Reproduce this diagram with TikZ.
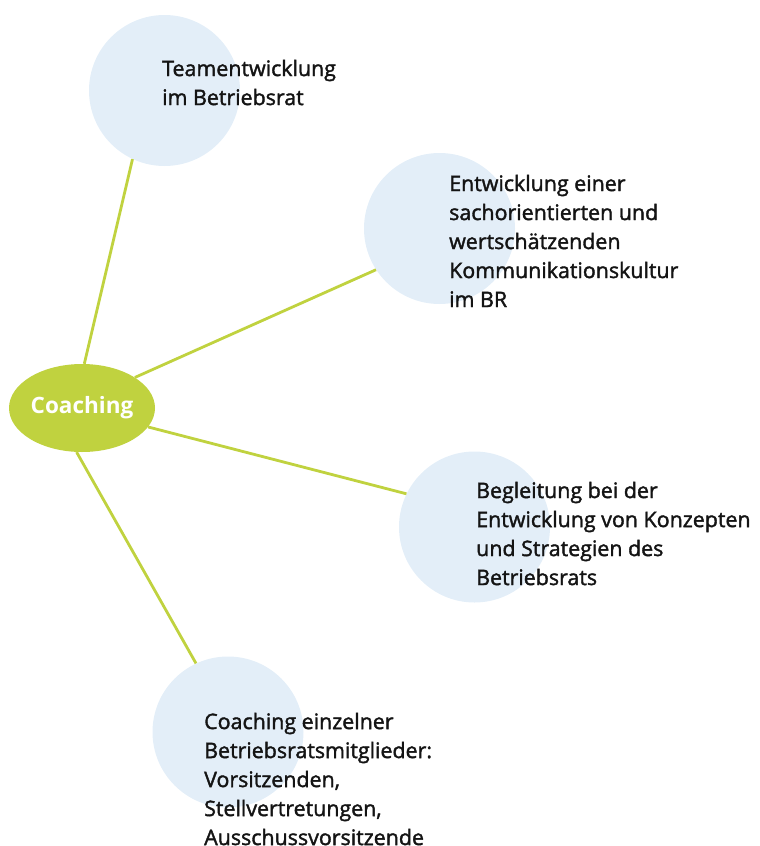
\documentclass[tikz,border=0pt]{standalone}
\usepackage{fontspec}
\setmainfont{Open Sans}[FakeBold=1.7]
\newfontfamily\hubfont{Open Sans}[UprightFont=*-Bold]
\usetikzlibrary{shapes.geometric}
\definecolor{limegreen}{HTML}{C0D23F}
\definecolor{paleblue}{HTML}{E3EEF8}
\definecolor{inktext}{HTML}{141414}
\begin{document}
\begin{tikzpicture}[x=1pt,y=-1pt,
  topic/.style={circle,fill=paleblue,inner sep=0pt,minimum size=151pt},
  hub/.style={ellipse,fill=limegreen,inner sep=0pt,minimum width=146pt,minimum height=88pt,
    text=white,font=\fontsize{22.5}{27}\hubfont},
  label/.style={anchor=north west,inner sep=0pt,align=left,text=inktext,
    font=\fontsize{21.4}{29}\selectfont},
  spoke/.style={draw=limegreen,line width=2.8pt}]
\useasboundingbox (0,0) rectangle (760,846);

% background discs
\node[topic] (t1) at (164.5,90.5) {};
\node[topic] (t2) at (439.5,228.5) {};
\node[topic] (t3) at (474.5,527) {};
\node[topic] (t4) at (228,732) {};

% central hub
\node[hub] (hub) at (82,408) {Coaching};

% spokes
\draw[spoke] (hub.87) -- (t1.245.6);
\draw[spoke] (hub.30.5) -- (t2.213);
\draw[spoke] (hub.-16) -- (t3.154.6);
\draw[spoke] (hub.263.7) -- (t4.115.6);

% topic texts
\node[label] (l1) at (162,59.6) {Teamentwicklung\\im Betriebsrat};
\node[label] (l2) at (449,174.6) {Entwicklung einer\\sachorientierten und\\wertschätzenden\\Kommunikationskultur\\im BR};
\node[label] (l3) at (476,481.6) {Begleitung bei der\\Entwicklung von Konzepten\\und Strategien des\\Betriebsrats};
\node[label] (l4) at (204,712.6) {Coaching einzelner\\Betriebsratsmitglieder:\\Vorsitzenden,\\Stellvertretungen,\\Ausschussvorsitzende};
\end{tikzpicture}
\end{document}
